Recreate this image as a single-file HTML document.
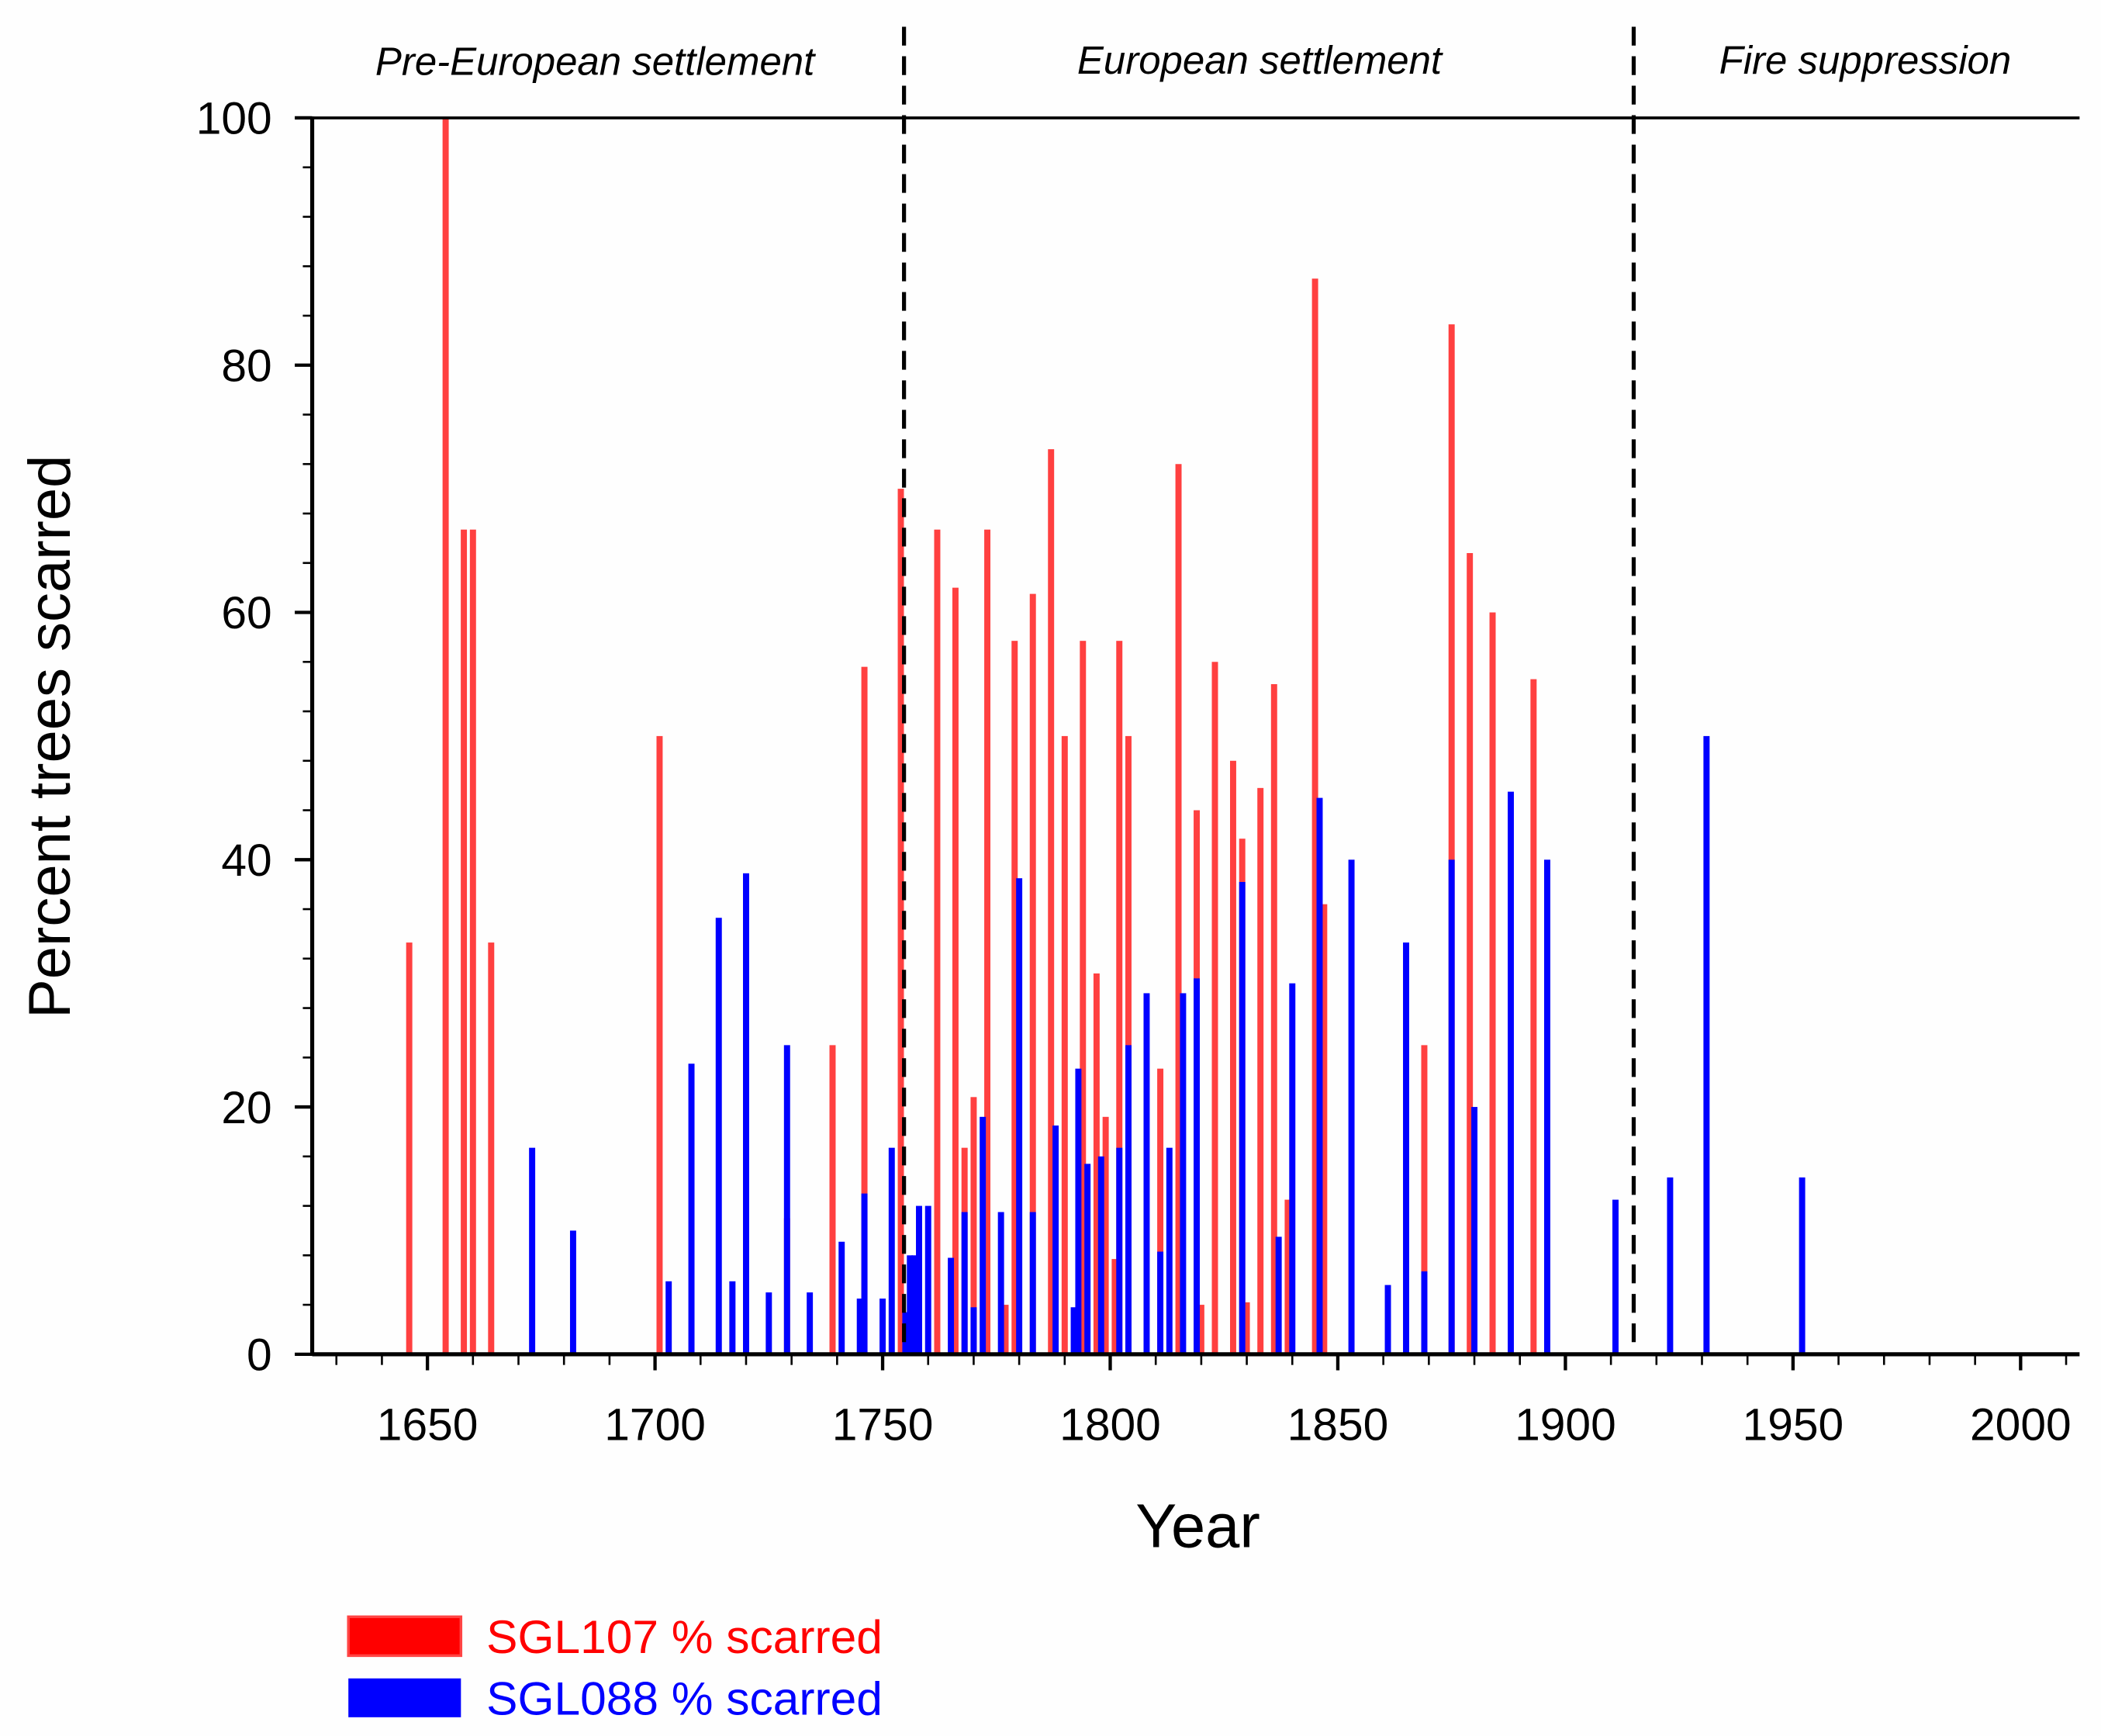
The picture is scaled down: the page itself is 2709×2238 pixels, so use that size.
<!DOCTYPE html>
<html><head><meta charset="utf-8"><style>
html,body{margin:0;padding:0;background:#fff}
svg{display:block}
text{font-family:"Liberation Sans",Arial,sans-serif}
</style></head><body>
<svg id="chart" width="2709" height="2238" viewBox="0 0 1568 1296" preserveAspectRatio="none" xmlns="http://www.w3.org/2000/svg">
<rect width="1568" height="1296" fill="#fefefe"/>
<g id="bars-red"></g>
<g id="bars-blue"></g>
<g id="axes"></g>
<text x="444" y="56" font-size="29.5" font-style="italic" text-anchor="middle">Pre-European settlement</text>
<text x="940" y="55" font-size="29.5" font-style="italic" text-anchor="middle">European settlement</text>
<text x="1392" y="55" font-size="29.5" font-style="italic" text-anchor="middle">Fire suppression</text>
<text x="894" y="1155" font-size="46" text-anchor="middle">Year</text>
<text x="0" y="0" font-size="44" text-anchor="middle" transform="translate(52,550) rotate(-90)">Percent trees scarred</text>
<rect x="260" y="1207" width="84" height="29" fill="#ff0000" stroke="#ff4444" stroke-width="2"/>
<text x="363" y="1234" font-size="35" fill="#ff0000">SGL107 % scarred</text>
<rect x="260" y="1253" width="84" height="29" fill="#0000ff"/>
<text x="363" y="1280" font-size="35" fill="#0000ff">SGL088 % scarred</text>
</svg>
<script>
const redYears=[1646,1654,1658,1660,1664,1701,1729,1739,1746,1754,1762,1766,1768,1770,1773,1777,1779,1783,1787,1790,1794,1797,1799,1801,1802,1804,1811,1815,1819,1820,1823,1827,1829,1830,1833,1836,1839,1845,1847,1869,1875,1879,1884,1893];
const redValues=[33.3,100,66.7,66.7,33.3,50,11,25,55.6,70,66.7,62,16.7,20.8,66.7,4,57.7,61.5,73.2,50,57.7,30.8,19.2,7.7,57.7,50,23.1,72,44,4,56,48,41.7,4.2,45.8,54.2,12.5,87,36.4,25,83.3,64.8,60,54.6];
const blueYears=[1673,1682,1703,1708,1714,1717,1720,1725,1729,1734,1741,1745,1746,1750,1752,1755,1756,1757,1758,1760,1765,1768,1770,1772,1776,1780,1783,1788,1792,1793,1795,1798,1802,1804,1808,1811,1813,1816,1819,1829,1837,1840,1846,1853,1861,1865,1869,1875,1880,1888,1896,1911,1923,1931,1952];
const blueValues=[16.7,10,5.9,23.5,35.3,5.9,38.9,5,25,5,9.1,4.5,13,4.5,16.7,3.4,8,8,12,12,7.8,11.5,3.8,19.2,11.5,38.5,11.5,18.5,3.8,23.1,15.4,16,16.7,25,29.2,8.3,16.7,29.2,30.4,38.2,9.5,30,45,40,5.6,33.3,6.7,40,20,45.5,40,12.5,14.3,50,14.3];
const xTicks=[1650,1700,1750,1800,1850,1900,1950,2000];
const yTicks=[0,20,40,60,80,100];
const periodBounds=[1754.7,1915];
const NS='http://www.w3.org/2000/svg';
const X=y=>319+(y-1650)*(1508-319)/350;
const Y=v=>1011-v*(1011-88)/100;
function mk(tag,attrs,parent){const e=document.createElementNS(NS,tag);for(const k in attrs)e.setAttribute(k,attrs[k]);parent.appendChild(e);return e;}
const gr=document.getElementById('bars-red'),gb=document.getElementById('bars-blue'),ga=document.getElementById('axes');
redYears.forEach((yr,i)=>{const r=mk('rect',{x:X(yr)-2.3,y:Y(redValues[i]),width:4.6,height:Y(0)-Y(redValues[i]),fill:'#ff4040'},gr);

});
blueYears.forEach((yr,i)=>{const r=mk('rect',{x:X(yr)-2.3,y:Y(blueValues[i]),width:4.6,height:Y(0)-Y(blueValues[i]),fill:'#0000ff'},gb);

});
const xa=mk('line',{x1:233,y1:1011,x2:1552,y2:1011,stroke:'#000','stroke-width':3},ga);


const ya=mk('line',{x1:233,y1:87,x2:233,y2:1012,stroke:'#000','stroke-width':3},ga);


const tb=mk('line',{x1:233,y1:88,x2:1552,y2:88,stroke:'#000','stroke-width':2.2},ga);


for(let yr=1630;yr<=2010;yr+=10){const maj=yr%50===0;mk('line',{x1:X(yr),y1:1011,x2:X(yr),y2:1011+(maj?12:8),stroke:'#000','stroke-width':maj?2.5:1.5},ga);}
xTicks.forEach(t=>{const e=mk('text',{x:X(t),y:1075,'font-size':34,'text-anchor':'middle'},ga);e.textContent=t;

});
for(let v=0;v<=100;v+=4){const maj=v%20===0;mk('line',{x1:233-(maj?13:7),y1:Y(v),x2:233,y2:Y(v),stroke:'#000','stroke-width':maj?2.5:1.5},ga);}
yTicks.forEach(t=>{const e=mk('text',{x:203,y:Y(t)+12,'font-size':34,'text-anchor':'end'},ga);e.textContent=t;

});
periodBounds.forEach(b=>{const l=mk('line',{x1:X(b),y1:20,x2:X(b),y2:1011,stroke:'#000','stroke-width':3,'stroke-dasharray':'14,8'},ga);

});
</script>
</body></html>
